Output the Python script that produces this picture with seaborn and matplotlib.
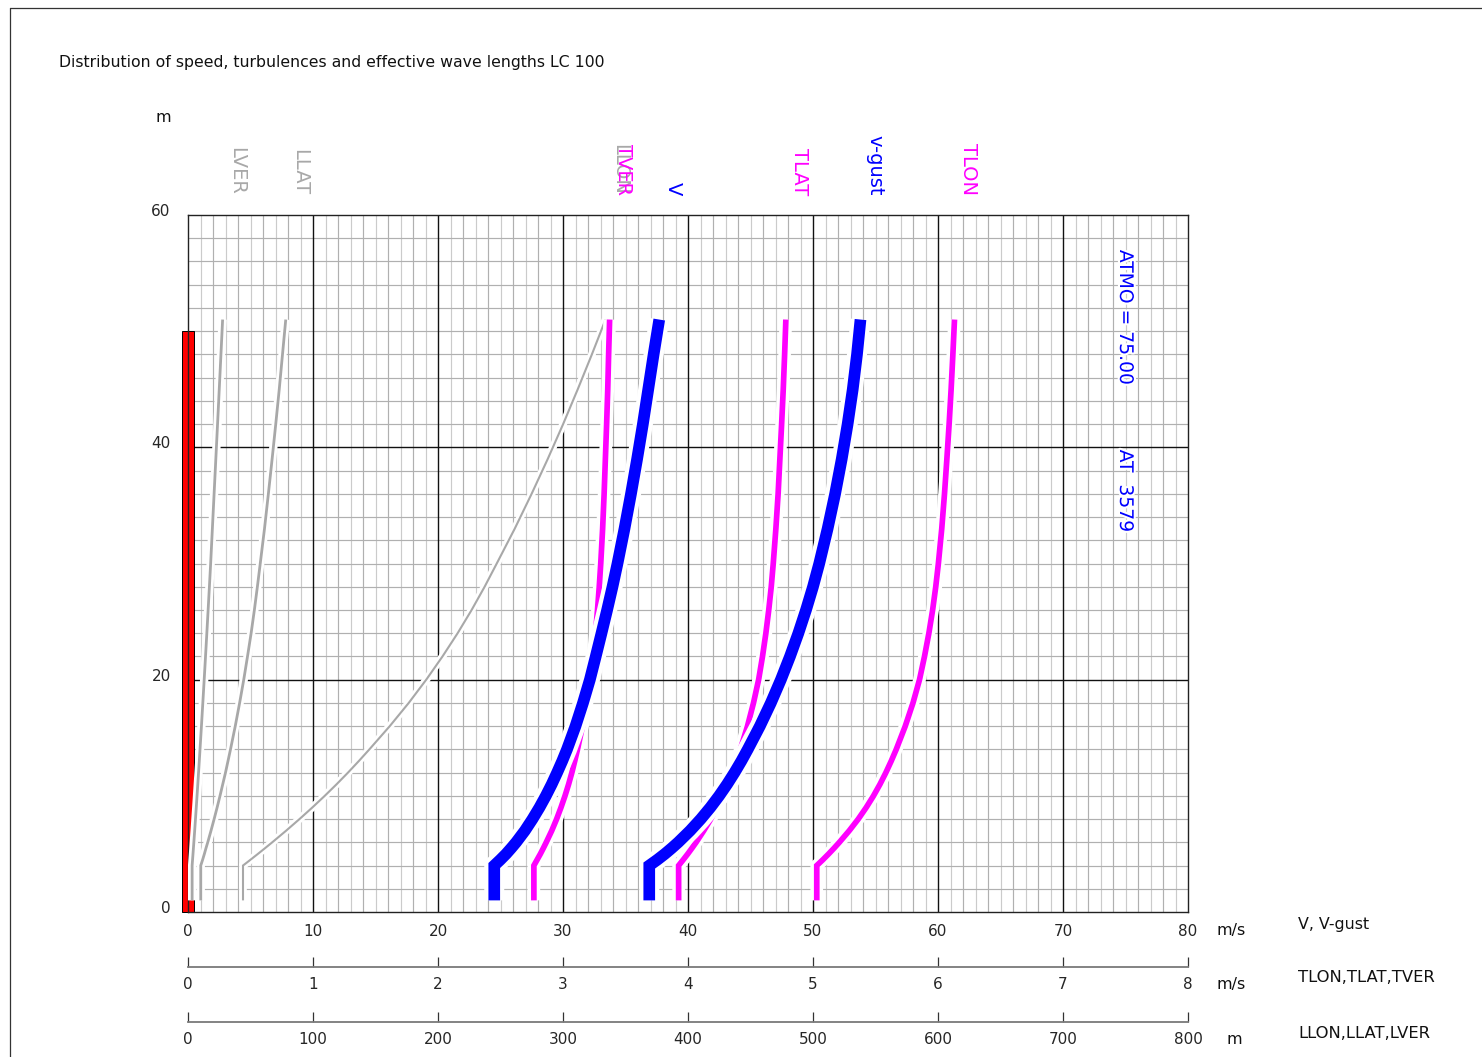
import matplotlib
matplotlib.use("Agg")
import matplotlib.pyplot as plt
import matplotlib.patheffects as pe
import matplotlib.transforms as mtransforms
from matplotlib.lines import Line2D
import numpy as np
import seaborn as sns

W, H = 1482, 1057

# Heights above ground [m] at which the profiles are given
HEIGHT = [1, 4, 4.5, 5, 5.5, 6, 7, 8, 9, 10, 11, 12, 13, 14, 16, 18, 20, 22, 24,
          26, 28, 30, 33, 36, 39, 42, 45, 48, 51]

# Mean speed and gust speed [m/s]
V = [24.5, 24.5, 24.99, 25.45, 25.86, 26.25, 26.95, 27.56, 28.12, 28.63, 29.1,
     29.53, 29.94, 30.32, 31.0, 31.6, 32.15, 32.62, 33.08, 33.53, 33.96, 34.36,
     34.92, 35.44, 35.93, 36.39, 36.82, 37.25, 37.7]
V_GUST = [36.9, 36.9, 37.55, 38.15, 38.7, 39.22, 40.17, 41.02, 41.79, 42.49, 43.13,
          43.72, 44.27, 44.78, 45.75, 46.63, 47.43, 48.16, 48.83, 49.44, 50.0, 50.5,
          51.17, 51.77, 52.3, 52.77, 53.18, 53.52, 53.8]

# Turbulence (standard deviations) [m/s]
TLON = [5.030, 5.030, 5.079, 5.125, 5.169, 5.211, 5.290, 5.362, 5.426, 5.484,
        5.536, 5.583, 5.626, 5.666, 5.738, 5.800, 5.852, 5.892, 5.927, 5.957,
        5.982, 6.003, 6.030, 6.052, 6.071, 6.089, 6.105, 6.119, 6.132]
TLAT = [3.925, 3.925, 3.962, 3.998, 4.032, 4.065, 4.126, 4.182, 4.232, 4.278,
        4.318, 4.355, 4.388, 4.419, 4.476, 4.524, 4.565, 4.596, 4.623, 4.646,
        4.666, 4.682, 4.703, 4.721, 4.735, 4.749, 4.762, 4.773, 4.783]
TVER = [2.767, 2.767, 2.793, 2.819, 2.843, 2.866, 2.910, 2.949, 2.984, 3.016,
        3.045, 3.071, 3.094, 3.116, 3.156, 3.190, 3.219, 3.241, 3.260, 3.276,
        3.290, 3.302, 3.317, 3.329, 3.339, 3.349, 3.358, 3.365, 3.373]

# Effective wave lengths [m]
LLON = [44, 44, 50.0, 55.9, 61.7, 67.4, 78.5, 89.2, 99.5, 109.4, 118.9, 128.0,
        136.7, 145.1, 161.4, 176.6, 190.6, 203.6, 215.7, 226.9, 237.3, 247.0,
        261.4, 274.9, 287.8, 300.1, 311.8, 323.1, 334.0]
LLAT = [10.2, 10.2, 11.7, 13.1, 14.4, 15.8, 18.4, 20.9, 23.3, 25.6, 27.8, 30.0,
        32.0, 34.0, 37.8, 41.3, 44.6, 47.6, 50.5, 53.1, 55.5, 57.8, 61.2, 64.3,
        67.3, 70.2, 73.0, 75.6, 78.2]
LVER = [3.3, 3.3, 3.65, 4.0, 4.34, 4.68, 5.34, 5.98, 6.61, 7.23, 7.84, 8.44, 9.03,
        9.61, 10.75, 11.86, 12.95, 14.02, 15.07, 16.1, 17.12, 18.12, 19.5, 20.88,
        22.26, 23.64, 25.0, 26.35, 27.7]

STRUCTURE_HEIGHT = 50.0

X_TICKS_SPEED = [0, 10, 20, 30, 40, 50, 60, 70, 80]
X_TICKS_TURB = [0, 1, 2, 3, 4, 5, 6, 7, 8]
X_TICKS_LEN = [0, 100, 200, 300, 400, 500, 600, 700, 800]
Y_TICKS = [0, 20, 40, 60]

TITLE = "Distribution of speed, turbulences and effective wave lengths LC 100"

sns.set_theme(style="white")
plt.rcParams["font.family"] = ["DejaVu Sans"]
plt.rcParams["text.color"] = "#111111"

GRAY = "#a8a8a8"
MAGENTA = "#ff00ff"
BLUE = "#0000ff"

fig = plt.figure(figsize=(W / 100, H / 100), dpi=100)
fig.patch.set_facecolor("white")


def fx(px):
    return px / W


def fy(py):
    return 1 - py / H


ax = fig.add_axes([fx(188), fy(912), 1000 / W, 697 / H])
ax.set_facecolor("white")
ax.set_xlim(0, 80)
ax.set_ylim(0, 60)

# grid: fine lines every 1 m/s and every 2 m, heavy lines every 10 m/s and 20 m
for i in range(1, 80):
    if i % 10 == 0:
        ax.axvline(i, color="#111111", lw=1.0, zorder=0.6)
    else:
        ax.axvline(i, color="#cbcbcb" if i % 2 else "#b0b0b0", lw=0.85, zorder=0.5)
for j in range(2, 60, 2):
    if j % 20 == 0:
        ax.axhline(j, color="#111111", lw=1.0, zorder=0.6)
    else:
        ax.axhline(j, color="#b0b0b0", lw=0.85, zorder=0.5)

for s in ax.spines.values():
    s.set_color("#222222")
    s.set_linewidth(1.0)

# structure height
ax.bar([0.0], [STRUCTURE_HEIGHT], width=0.95, color="#ff0000", edgecolor="#000000",
       linewidth=0.7, zorder=2.5, clip_on=False, align="center")


def profile(values, scale, color, lw, halo, z):
    xs = np.asarray(values, dtype=float) * scale
    n_before = len(ax.lines)
    sns.lineplot(x=xs, y=HEIGHT, sort=False, estimator=None, color=color,
                 linewidth=lw, ax=ax, zorder=z,
                 solid_capstyle="butt", solid_joinstyle="miter")
    for line in ax.lines[n_before:]:
        line.set_path_effects([pe.Stroke(linewidth=lw + halo, foreground="white"),
                               pe.Normal()])
    return xs[-1]


label_tr = mtransforms.offset_copy(ax.transData, fig=fig, x=14, y=0, units="dots")

series = [
    ("LVER", LVER, 0.1, GRAY, 2.0, 4.0, 3),
    ("LLAT", LLAT, 0.1, GRAY, 2.0, 4.0, 3),
    ("LLON", LLON, 0.1, GRAY, 1.5, 4.0, 3),
    ("TVER", TVER, 10, MAGENTA, 4.1, 5.0, 4),
    ("TLAT", TLAT, 10, MAGENTA, 4.1, 5.0, 4),
    ("TLON", TLON, 10, MAGENTA, 4.1, 5.0, 4),
    ("V", V, 1, BLUE, 8.4, 6.0, 5),
    ("v-gust", V_GUST, 1, BLUE, 8.4, 6.0, 5),
]

for name, vals, scale, color, lw, halo, z in series:
    top = profile(vals, scale, color, lw, halo, z)
    ax.text(top, 61.7, name, rotation=-90, ha="center", va="bottom", color=color,
            fontsize=14, transform=label_tr, clip_on=False)

halo_txt = [pe.withStroke(linewidth=3, foreground="white")]
ax.text(75, 57.0, "ATMO = 75.00", rotation=-90, ha="center", va="top",
        color=BLUE, fontsize=13.5, zorder=6, path_effects=halo_txt)
ax.text(75, 39.8, "AT  3579", rotation=-90, ha="center", va="top",
        color=BLUE, fontsize=13.5, zorder=6, path_effects=halo_txt)

ax.set_xlabel("")
ax.set_ylabel("")
ax.set_xticks(X_TICKS_SPEED)
ax.set_xticklabels([str(t) for t in X_TICKS_SPEED])
ax.set_yticks(Y_TICKS)
ax.set_yticklabels([str(t) for t in Y_TICKS])
ax.tick_params(axis="x", length=0, pad=9, labelsize=11)
ax.tick_params(axis="y", length=0, pad=12.5, labelsize=11)
shift = mtransforms.ScaledTranslation(0, 5 / 100, fig.dpi_scale_trans)
for lab in ax.get_yticklabels():
    lab.set_transform(lab.get_transform() + shift)


def scale_axis(py, lim, ticks):
    a = fig.add_axes([fx(188), fy(py), 1000 / W, 0.0005])
    a.set_facecolor("none")
    a.set_xlim(0, lim)
    a.set_xticks(ticks)
    a.set_xticklabels([str(t) for t in ticks])
    a.set_yticks([])
    for k in ("left", "right", "top"):
        a.spines[k].set_visible(False)
    a.spines["bottom"].set_color("#7a7a7a")
    a.spines["bottom"].set_linewidth(1.3)
    a.tick_params(axis="x", bottom=True, direction="in", length=7.5, width=0.9,
                  color="#333333", pad=7.5, labelsize=11)
    return a


scale_axis(967, 8, X_TICKS_TURB)
scale_axis(1022, 800, X_TICKS_LEN)

fs = 11.4
fig.text(fx(59), fy(62), TITLE, ha="left", va="center", fontsize=11.3)
fig.text(fx(163), fy(117), "m", ha="center", va="center", fontsize=fs)
fig.text(fx(1217), fy(930), "m/s", ha="left", va="center", fontsize=fs)
fig.text(fx(1298), fy(925), "V, V-gust", ha="left", va="center", fontsize=fs)
fig.text(fx(1217), fy(985), "m/s", ha="left", va="center", fontsize=fs)
fig.text(fx(1298), fy(978), "TLON,TLAT,TVER", ha="left", va="center", fontsize=11.8)
fig.text(fx(1226), fy(1039), "m", ha="left", va="center", fontsize=fs)
fig.text(fx(1298), fy(1033), "LLON,LLAT,LVER", ha="left", va="center", fontsize=11.8)

# outer frame
fig.add_artist(Line2D([fx(9.5), fx(9.5)], [0, fy(7.5)], transform=fig.transFigure,
                      color="#333333", lw=0.9))
fig.add_artist(Line2D([fx(9.5), 1], [fy(7.5), fy(7.5)], transform=fig.transFigure,
                      color="#333333", lw=0.9))

fig.savefig("out.png", dpi=100, facecolor="white")
